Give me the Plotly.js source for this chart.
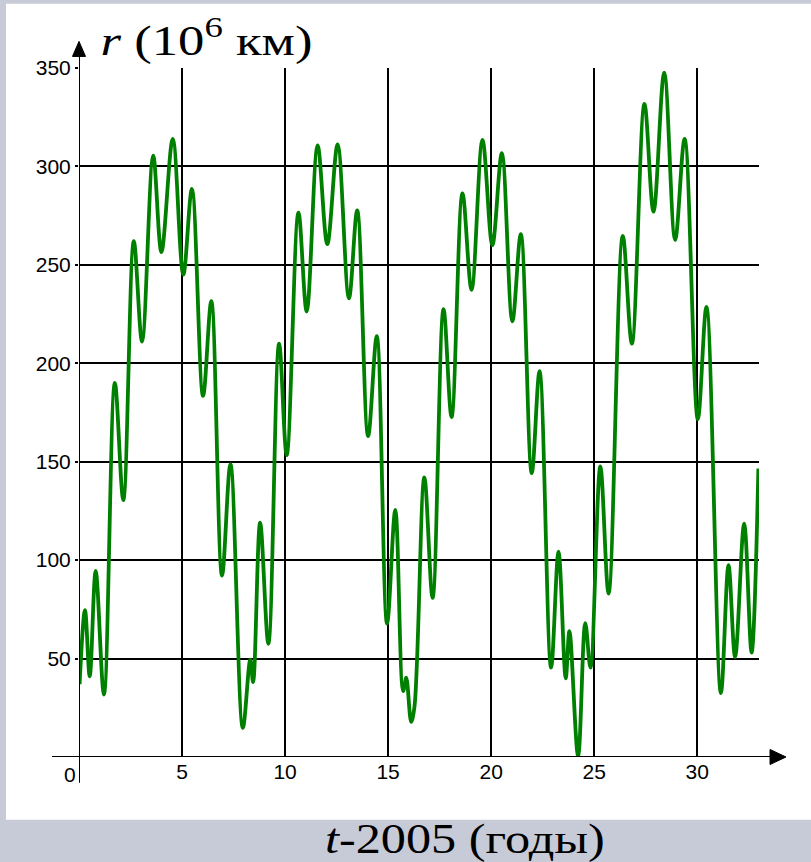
<!DOCTYPE html>
<html>
<head>
<meta charset="utf-8">
<script src="https://cdn.plot.ly/plotly-3.0.1.min.js"></script>
<style>
  html, body { margin: 0; padding: 0; background: #c7cbd7; }
  #chart { width: 811px; height: 862px; }
</style>
</head>
<body>
<div id="chart"></div>
<script>
// Years since 2005 at the turning points of the curve
const years = [
  0.03, 0.29, 0.52, 0.81, 1.21, 1.74, 2.15, 2.66, 3.06, 3.6,
  4.0, 4.55, 5.06, 5.48, 6.02, 6.42, 6.94, 7.35, 7.95, 8.31,
  8.45, 8.79, 9.19, 9.71, 10.08, 10.65, 11.05, 11.58, 12.05, 12.55,
  13.1, 13.5, 14.03, 14.45, 14.95, 15.35, 15.73, 15.88, 16.12, 16.28,
  16.76, 17.16, 17.69, 18.08, 18.61, 19.05, 19.58, 20.06, 20.52, 21.03,
  21.44, 21.97, 22.35, 22.91, 23.27, 23.62, 23.8, 24.22, 24.57, 24.82,
  25.3, 25.7, 26.39, 26.83, 27.44, 27.88, 28.4, 28.93, 29.39, 30.03,
  30.45, 31.15, 31.52, 31.84, 32.28, 32.64, 32.97
];

// Distance r, in millions of km
const distance = [
  37, 74.6, 41, 94.5, 31.7, 190, 130.5, 262, 211, 305.5,
  256.5, 314, 245, 288.6, 183.4, 231.6, 92.2, 148.8, 14.8, 49.5,
  38, 119, 57.5, 210, 153.3, 276.5, 226.3, 310.7, 260.5, 311.2,
  233, 277.7, 163, 213.8, 67.8, 125.5, 33.5, 40.3, 17.8, 25.5,
  142, 80.8, 227.5, 172.7, 286.3, 237.3, 313.5, 260, 306.7, 221.3,
  265.6, 144.2, 196, 45.4, 104.3, 40, 63.9, 0.4, 68, 45.4,
  147.6, 83, 264.7, 210, 331.7, 277, 347.7, 262.7, 314, 171.6,
  228.6, 32.4, 97.4, 50.7, 118.6, 53, 146.5
];

const xTickVals = [5, 10, 15, 20, 25, 30];
const xTickText = ['5', '10', '15', '20', '25', '30'];
const yTickVals = [50, 100, 150, 200, 250, 300, 350];
const yTickText = ['50', '100', '150', '200', '250', '300', '350'];

const xTitle = '<i>t</i>-2005 (годы)';
const yTitle = '<i>r</i> (10<sup>6</sup> км)';

const tickFont = { family: '"Liberation Sans", Arial, sans-serif', size: 21, color: '#000' };
const serif = '"Liberation Serif", "Times New Roman", serif';

const trace = {
  x: years,
  y: distance,
  type: 'scatter',
  mode: 'lines',
  line: { color: '#008000', width: 3.8, shape: 'spline', smoothing: 1 },
  hoverinfo: 'x+y'
};

const layout = {
  width: 811,
  height: 862,
  margin: { l: 79, r: 52, t: 68, b: 105 },
  paper_bgcolor: '#c7cbd7',
  plot_bgcolor: 'rgba(0,0,0,0)',
  showlegend: false,
  xaxis: {
    range: [0, 33],
    tickmode: 'array',
    tickvals: xTickVals,
    ticktext: xTickText,
    ticks: '',
    showgrid: true,
    gridcolor: '#000',
    gridwidth: 2,
    zeroline: false,
    showline: false,
    tickfont: tickFont,
    fixedrange: true
  },
  yaxis: {
    range: [0, 350],
    tickmode: 'array',
    tickvals: yTickVals,
    ticktext: yTickText,
    ticks: 'outside',
    ticklen: 3,
    tickwidth: 2,
    tickcolor: '#000',
    showgrid: true,
    gridcolor: '#000',
    gridwidth: 2,
    zeroline: false,
    showline: false,
    tickfont: tickFont,
    fixedrange: true
  },
  shapes: [
    // white sheet behind the chart
    { type: 'rect', xref: 'paper', yref: 'paper', x0: -0.1074, x1: 1.08, y0: -0.091, y1: 1.0933,
      fillcolor: '#ffffff', line: { width: 0 }, layer: 'below' },
    // horizontal axis with arrow
    { type: 'line', xref: 'paper', yref: 'y', x0: -0.0397, x1: 1.018, y0: 0, y1: 0,
      line: { color: '#000', width: 2 } },
    { type: 'path', xref: 'paper', yref: 'paper',
      path: 'M 1.0162 0.0109 L 1.0397 0 L 1.0162 -0.0109 Z',
      fillcolor: '#000', line: { color: '#000', width: 1 } },
    // vertical axis with arrow
    { type: 'line', xref: 'x', yref: 'paper', x0: 0, x1: 0, y0: -0.0373, y1: 1.018,
      line: { color: '#000', width: 2 } },
    { type: 'path', xref: 'paper', yref: 'paper',
      path: 'M -0.0096 1.0168 L 0 1.0386 L 0.0096 1.0168 Z',
      fillcolor: '#000', line: { color: '#000', width: 1 } }
  ],
  annotations: [
    { text: '0', xref: 'paper', yref: 'paper', x: -0.0132, y: -0.0255,
      xanchor: 'center', yanchor: 'middle', showarrow: false, font: tickFont },
    { text: yTitle, xref: 'paper', yref: 'paper', x: 0.1868, y: 1.0435,
      xanchor: 'center', yanchor: 'middle', showarrow: false,
      font: { family: serif, size: 42, color: '#000' } },
    { text: xTitle, xref: 'paper', yref: 'paper', x: 0.5676, y: -0.1195,
      xanchor: 'center', yanchor: 'middle', showarrow: false,
      font: { family: serif, size: 42, color: '#000' } }
  ]
};

Plotly.newPlot('chart', [trace], layout, { displayModeBar: false, staticPlot: true }).then(function () {
  // The axis titles are set in a widened serif face
  const widths = { r: 212, t: 280 };
  document.querySelectorAll('.annotation-text').forEach(function (el) {
    const txt = el.textContent;
    let target = null;
    if (txt.indexOf('км') >= 0) target = widths.r;
    if (txt.indexOf('годы') >= 0) target = widths.t;
    if (!target) return;
    const box = el.getBBox();
    if (!box.width) return;
    el.style.transformBox = 'fill-box';
    el.style.transformOrigin = 'center';
    el.style.transform = 'scaleX(' + (target / box.width).toFixed(3) + ')';
  });
});
</script>
</body>
</html>
